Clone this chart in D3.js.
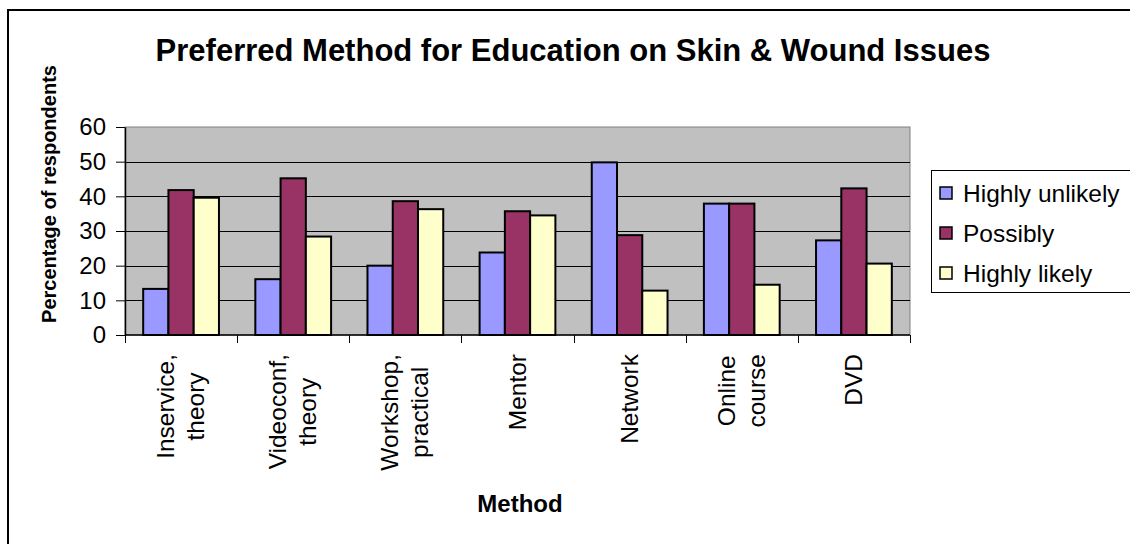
<!DOCTYPE html>
<html>
<head>
<meta charset="utf-8">
<script src="https://cdn.jsdelivr.net/npm/d3@7"></script>
<style>
  html, body { margin: 0; padding: 0; background: #fff; }
  svg { display: block; font-family: "Liberation Sans", Arial, sans-serif; }
</style>
</head>
<body>
<svg id="chart" width="1130" height="544"></svg>
<script>
// Survey results: preferred education method on skin & wound issues
const categories = ["Inservice,\ntheory", "Videoconf,\ntheory", "Workshop,\npractical", "Mentor", "Network", "Online\ncourse", "DVD"];
const seriesNames = ["Highly unlikely", "Possibly", "Highly likely"];
const highlyUnlikely = [13.3, 16.1, 20.0, 23.8, 49.8, 37.9, 27.3];
const possibly       = [41.8, 45.2, 38.6, 35.7, 28.8, 37.9, 42.3];
const highlyLikely   = [39.6, 28.4, 36.3, 34.5, 12.8, 14.5, 20.6];
const yTicks = [0, 10, 20, 30, 40, 50, 60];
const seriesColors = ["#9999FF", "#993366", "#FFFFCC"];

const seriesValues = [highlyUnlikely, possibly, highlyLikely];

const svg = d3.select("#chart");

// Chart frame
svg.append("rect")
  .attr("x", 8).attr("y", 10)
  .attr("width", 1140).attr("height", 560)
  .attr("fill", "#fff").attr("stroke", "#000").attr("stroke-width", 2);

const plot = { left: 125, right: 910, top: 127, bottom: 335 };

const x = d3.scaleBand().domain(categories).range([plot.left, plot.right]).paddingInner(0).paddingOuter(0);
const xs = d3.scaleBand().domain(seriesNames).range([0, x.bandwidth()]).paddingInner(0).paddingOuter(0.72);
const y = d3.scaleLinear().domain([0, 60]).range([plot.bottom, plot.top]);
const color = d3.scaleOrdinal().domain(seriesNames).range(seriesColors);

// Plot area background
svg.append("rect")
  .attr("x", plot.left).attr("y", plot.top)
  .attr("width", plot.right - plot.left).attr("height", plot.bottom - plot.top)
  .attr("fill", "#C0C0C0").attr("stroke", "#808080").attr("stroke-width", 1);

// Horizontal gridlines
svg.append("g").selectAll("line")
  .data(yTicks.filter(t => t > 0 && t < 60))
  .join("line")
  .attr("x1", plot.left).attr("x2", plot.right)
  .attr("y1", d => Math.round(y(d)) + 0.5).attr("y2", d => Math.round(y(d)) + 0.5)
  .attr("stroke", "#000").attr("stroke-width", 1);

// Bars
const rows = categories.map((c, i) => ({ cat: c, vals: seriesNames.map((s, j) => ({ s, v: seriesValues[j][i] })) }));
svg.append("g").selectAll("g")
  .data(rows)
  .join("g")
  .attr("transform", d => `translate(${x(d.cat)},0)`)
  .selectAll("rect")
  .data(d => d.vals)
  .join("rect")
  .attr("x", d => xs(d.s))
  .attr("y", d => y(d.v))
  .attr("width", xs.bandwidth())
  .attr("height", d => y(0) - y(d.v))
  .attr("fill", d => color(d.s))
  .attr("stroke", "#000").attr("stroke-width", 2);

// Y axis
const yAxis = svg.append("g")
  .attr("transform", `translate(${plot.left},0)`)
  .call(d3.axisLeft(y).tickValues(yTicks).tickSize(9).tickPadding(10).tickSizeOuter(0));
yAxis.select(".domain").attr("stroke", "#000").attr("stroke-width", 1.5);
yAxis.selectAll(".tick line").attr("stroke", "#000");
yAxis.selectAll(".tick text")
  .attr("font-family", "'Liberation Sans', Arial, sans-serif")
  .attr("font-size", 24).attr("fill", "#000");

// X axis line and boundary ticks
svg.append("line")
  .attr("x1", plot.left).attr("x2", plot.right)
  .attr("y1", plot.bottom).attr("y2", plot.bottom)
  .attr("stroke", "#000").attr("stroke-width", 1.5);
const boundaries = categories.map(c => x(c)).concat([x(categories[categories.length - 1]) + x.bandwidth()]);
svg.append("g").selectAll("line")
  .data(boundaries)
  .join("line")
  .attr("x1", d => Math.round(d) + 0.5).attr("x2", d => Math.round(d) + 0.5)
  .attr("y1", plot.bottom).attr("y2", plot.bottom + 8)
  .attr("stroke", "#000").attr("stroke-width", 1);

// Category labels, rotated, lines centred on the longest line
const labelSize = 24.5;
const lineGap = 30;
const labels = svg.append("g");
categories.forEach(c => {
  const lines = c.split("\n");
  const cx = x(c) + x.bandwidth() / 2;
  const g = labels.append("g");
  const texts = lines.map((ln, i) => g.append("text")
    .attr("font-size", labelSize)
    .attr("text-anchor", "middle")
    .attr("fill", "#000")
    .text(ln));
  const maxW = d3.max(texts, t => t.node().getComputedTextLength());
  const cy = 354 + maxW / 2;
  texts.forEach((t, i) => {
    const bx = cx + 8 + (i - (lines.length - 1) / 2) * lineGap;
    t.attr("transform", `translate(${bx},${cy}) rotate(-90)`);
  });
});

// Axis titles
svg.append("text")
  .attr("x", 520).attr("y", 512)
  .attr("text-anchor", "middle")
  .attr("font-size", 24).attr("font-weight", "bold")
  .text("Method");

svg.append("text")
  .attr("transform", "translate(56,194) rotate(-90)")
  .attr("text-anchor", "middle")
  .attr("font-size", 20).attr("font-weight", "bold")
  .text("Percentage of respondents");

// Title
svg.append("text")
  .attr("x", 573).attr("y", 61)
  .attr("text-anchor", "middle")
  .attr("font-size", 31).attr("font-weight", "bold")
  .text("Preferred Method for Education on Skin & Wound Issues");

// Legend
const legend = svg.append("g");
legend.append("rect")
  .attr("x", 931.5).attr("y", 170.5)
  .attr("width", 220).attr("height", 122)
  .attr("fill", "#fff").attr("stroke", "#000").attr("stroke-width", 1);
const items = legend.selectAll("g.item")
  .data(seriesNames)
  .join("g")
  .attr("class", "item")
  .attr("transform", (d, i) => `translate(0,${193 + i * 40})`);
items.append("rect")
  .attr("x", 940).attr("y", -6)
  .attr("width", 12).attr("height", 12)
  .attr("fill", d => color(d)).attr("stroke", "#000").attr("stroke-width", 1.5);
items.append("text")
  .attr("x", 963).attr("y", 8.5)
  .attr("font-size", 24.5).attr("fill", "#000")
  .text(d => d);
</script>
</body>
</html>
